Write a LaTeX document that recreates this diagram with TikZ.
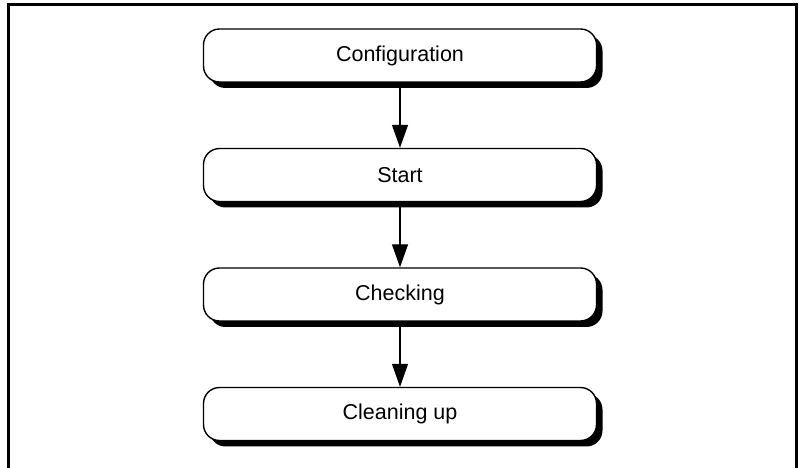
\documentclass[tikz,border=0pt]{standalone}
\usepackage{fontspec}
\setmainfont{Liberation Sans}
\usetikzlibrary{arrows.meta,shadows}

\tikzset{
  stage/.style={draw=black, fill=white, line width=1.4pt, rounded corners=16pt,
    minimum width=393pt, minimum height=53pt, inner sep=0pt,
    font=\fontsize{21.5}{26}\selectfont,
    drop shadow={shadow xshift=6pt, shadow yshift=-6pt, fill=black, opacity=1}},
  flowarrow/.style={line width=1.3pt, -{Triangle[width=16pt,length=23pt]}}
}

\begin{document}
\begin{tikzpicture}[x=1pt,y=1pt]
\def\cx{400};
\def\dy{119.5};
\def\ytop{412.5};

\useasboundingbox (0,0) rectangle (800,468);
\draw[line width=3pt] (8.5,0) -- (8.5,463.5) -- (796.5,463.5) -- (796.5,0);

\node[stage] (config) at (\cx, \ytop) {Configuration};
\node[stage] (start) at (\cx, \ytop - \dy) {Start};
\node[stage] (check) at (\cx, \ytop - 2*\dy) {Checking};
\node[stage] (clean) at (\cx, \ytop - 3*\dy) {Cleaning up};

\draw[flowarrow] (config.south) -- (start.north);
\draw[flowarrow] (start.south) -- (check.north);
\draw[flowarrow] (check.south) -- (clean.north);

\end{tikzpicture}
\end{document}
